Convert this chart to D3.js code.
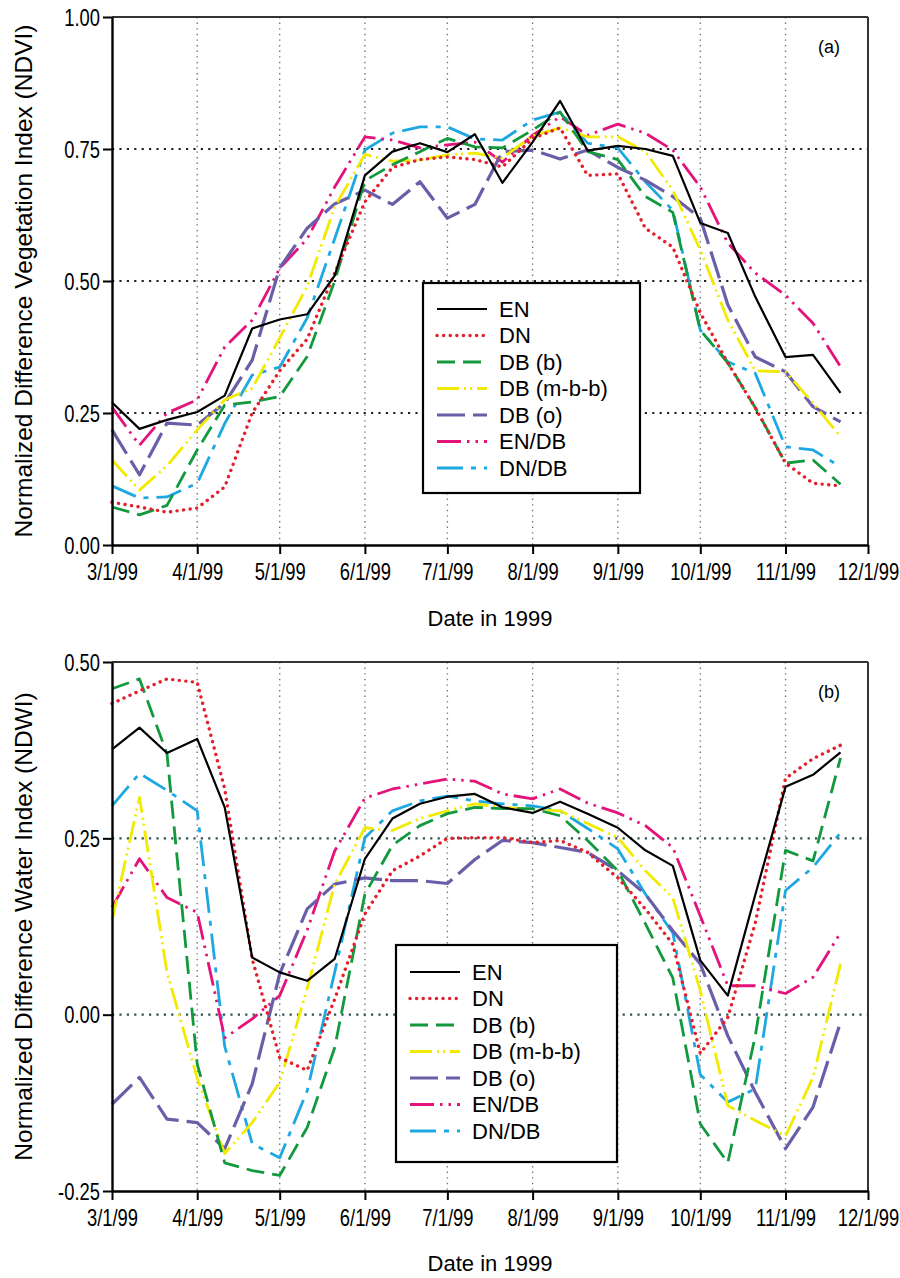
<!DOCTYPE html>
<html><head><meta charset="utf-8">
<script src="https://cdn.jsdelivr.net/npm/d3@7"></script>
<style>body{margin:0;background:#fff}</style>
</head><body>
<svg id="chart" width="900" height="1278"></svg>
<script>
// ---------- DATA ----------
const dateLabels = ["3/1/99","3/11/99","3/21/99","4/1/99","4/11/99","4/21/99","5/1/99","5/11/99","5/21/99",
  "6/1/99","6/11/99","6/21/99","7/1/99","7/11/99","7/21/99","8/1/99","8/11/99","8/21/99",
  "9/1/99","9/11/99","9/21/99","10/1/99","10/11/99","10/21/99","11/1/99","11/11/99","11/21/99"];
const xTickLabels = ["3/1/99","4/1/99","5/1/99","6/1/99","7/1/99","8/1/99","9/1/99","10/1/99","11/1/99","12/1/99"];
const seriesNames = ["EN","DN","DB (b)","DB (m-b-b)","DB (o)","EN/DB","DN/DB"];

const ndviEN   = [0.27,0.22,0.237,0.252,0.283,0.41,0.427,0.437,0.51,0.70,0.745,0.761,0.744,0.778,0.686,0.763,0.841,0.747,0.756,0.75,0.737,0.61,0.591,0.47,0.356,0.36,0.288];
const ndviDN   = [0.081,0.072,0.062,0.07,0.11,0.25,0.33,0.39,0.515,0.65,0.715,0.73,0.735,0.73,0.716,0.77,0.79,0.70,0.703,0.60,0.564,0.44,0.345,0.26,0.155,0.117,0.112];
const ndviDBb  = [0.072,0.057,0.075,0.18,0.265,0.271,0.281,0.357,0.50,0.69,0.72,0.745,0.77,0.754,0.752,0.786,0.82,0.745,0.73,0.66,0.63,0.407,0.345,0.26,0.155,0.161,0.115];
const ndviDBmbb= [0.161,0.104,0.15,0.218,0.275,0.297,0.392,0.49,0.64,0.74,0.727,0.729,0.739,0.742,0.733,0.775,0.79,0.773,0.773,0.745,0.672,0.559,0.426,0.33,0.328,0.269,0.205];
const ndviDBo  = [0.218,0.133,0.231,0.227,0.269,0.35,0.525,0.6,0.646,0.672,0.645,0.688,0.619,0.645,0.745,0.748,0.731,0.748,0.715,0.691,0.66,0.619,0.455,0.356,0.328,0.262,0.233];
const ndviENDB = [0.261,0.189,0.25,0.275,0.375,0.426,0.524,0.58,0.678,0.773,0.767,0.752,0.758,0.763,0.725,0.776,0.811,0.776,0.797,0.78,0.748,0.678,0.572,0.515,0.473,0.42,0.338];
const ndviDNDB = [0.112,0.089,0.091,0.117,0.23,0.322,0.337,0.43,0.58,0.748,0.78,0.792,0.792,0.769,0.767,0.805,0.82,0.761,0.752,0.688,0.634,0.407,0.347,0.325,0.186,0.18,0.148];

const ndwiEN   = [0.376,0.407,0.371,0.391,0.294,0.081,0.06,0.048,0.079,0.221,0.278,0.299,0.309,0.313,0.294,0.286,0.302,0.285,0.265,0.233,0.211,0.077,0.027,0.17,0.323,0.34,0.372];
const ndwiDN   = [0.441,0.459,0.476,0.471,0.32,0.079,-0.061,-0.079,0.022,0.143,0.204,0.225,0.25,0.251,0.251,0.244,0.247,0.23,0.194,0.15,0.1,-0.055,-0.004,0.13,0.335,0.363,0.382];
const ndwiDBb  = [0.462,0.476,0.37,-0.07,-0.21,-0.221,-0.228,-0.16,-0.047,0.171,0.24,0.268,0.285,0.294,0.292,0.292,0.282,0.247,0.204,0.129,0.052,-0.155,-0.21,-0.03,0.233,0.218,0.364];
const ndwiDBmbb= [0.133,0.308,0.06,-0.09,-0.197,-0.153,-0.096,0.037,0.185,0.265,0.261,0.278,0.289,0.299,0.294,0.291,0.289,0.271,0.251,0.204,0.166,0.034,-0.129,-0.15,-0.172,-0.089,0.072];
const ndwiDBo  = [-0.127,-0.089,-0.148,-0.153,-0.19,-0.098,0.058,0.15,0.185,0.194,0.19,0.19,0.186,0.22,0.247,0.244,0.237,0.23,0.204,0.171,0.119,0.072,-0.03,-0.11,-0.19,-0.131,-0.011];
const ndwiENDB = [0.152,0.221,0.166,0.145,-0.033,-0.006,0.027,0.12,0.232,0.307,0.32,0.327,0.334,0.331,0.313,0.306,0.32,0.30,0.286,0.268,0.237,0.14,0.041,0.041,0.03,0.053,0.116];
const ndwiDNDB = [0.296,0.342,0.318,0.289,-0.045,-0.183,-0.203,-0.108,0.06,0.251,0.289,0.303,0.31,0.303,0.299,0.296,0.289,0.264,0.235,0.171,0.116,-0.085,-0.124,-0.105,0.176,0.209,0.258];

const ndviTicks = [0, 0.25, 0.5, 0.75, 1.0];
const ndwiTicks = [-0.25, 0, 0.25, 0.5];

// ---------- STYLES ----------
const colors = ["#000000","#e3202c","#12993e","#f2ea00","#6a5ea8","#e3137b","#1ea8e2"];
const dashes = [null, "0.1 6.5", "18 8", "22 5 2 4 2 5", "28 8", "24 6 2.5 6 2.5 6", "26 8 5 8"];
const widths = [2.2, 3.4, 2.8, 2.8, 3.2, 2.8, 2.8];
const drawOrder = [6,5,4,3,2,1,0];

const parse = d3.timeParse("%m/%d/%y");
const dates = dateLabels.map(parse);
const svg = d3.select("#chart");

const x = d3.scaleTime().domain([parse("3/1/99"), parse("12/1/99")]).range([112, 868]);

const tickFont = "'Liberation Sans',Arial,Helvetica,sans-serif";
const titleFont = "'Liberation Sans',Arial,Helvetica,sans-serif";
const narrow = 0.8;

function panel(cfg) {
  const y = d3.scaleLinear().domain(cfg.domain).range([cfg.bottom, cfg.top]);
  const g = svg.append("g");
  const xt = xTickLabels.map(parse);

  // vertical grid (inner months)
  g.selectAll("line.vg").data(xt.slice(1, -1)).enter().append("line")
    .attr("x1", d => x(d)).attr("x2", d => x(d))
    .attr("y1", cfg.top).attr("y2", cfg.bottom)
    .attr("stroke", "#777").attr("stroke-width", 1.4).attr("stroke-dasharray", "1.4 4.2");
  // horizontal grid
  g.selectAll("line.hg").data(cfg.grid).enter().append("line")
    .attr("x1", 112).attr("x2", 868)
    .attr("y1", d => y(d)).attr("y2", d => y(d))
    .attr("stroke", cfg.gridColor).attr("stroke-width", 2.2)
    .attr("stroke-dasharray", "2.2 5.2");

  // series
  const line = d3.line().x((d, i) => x(dates[i])).y(d => y(d));
  drawOrder.forEach(k => {
    const p = g.append("path").datum(cfg.series[k])
      .attr("d", line).attr("fill", "none")
      .attr("stroke", colors[k]).attr("stroke-width", widths[k])
      .attr("stroke-linejoin", "round");
    if (dashes[k]) p.attr("stroke-dasharray", dashes[k]);
    if (k === 1) p.attr("stroke-linecap", "round");
  });

  // frame top/right
  g.append("line").attr("x1", 112).attr("x2", 868).attr("y1", cfg.top).attr("y2", cfg.top)
    .attr("stroke", "#333").attr("stroke-width", 2);
  g.append("line").attr("x1", 868).attr("x2", 868).attr("y1", cfg.top).attr("y2", cfg.bottom)
    .attr("stroke", "#333").attr("stroke-width", 2);

  // axes
  const ax = g.append("g").attr("transform", `translate(0,${cfg.bottom})`)
    .call(d3.axisBottom(x).tickValues(xt).tickFormat((d, i) => xTickLabels[i]).tickSize(9).tickSizeOuter(0));
  const ay = g.append("g").attr("transform", `translate(112,0)`)
    .call(d3.axisLeft(y).tickValues(cfg.ticks).tickFormat(d => d.toFixed(2)).tickSize(9).tickSizeOuter(0));
  [ax, ay].forEach(a => {
    a.select(".domain").attr("stroke", "#000").attr("stroke-width", 2.4);
    a.selectAll(".tick line").attr("stroke", "#000").attr("stroke-width", 2);
    a.selectAll(".tick text").attr("fill", "#000").attr("font-family", tickFont).attr("font-size", 23);
  });
  ax.selectAll(".tick text").attr("y", 0).attr("dy", 0)
    .attr("transform", `translate(0,35) scale(${narrow},1)`);
  ay.selectAll(".tick text").attr("x", 0).attr("dy", "0.36em")
    .attr("transform", `translate(-12,0) scale(${narrow},1)`);

  // titles
  svg.append("text").attr("x", 490).attr("y", cfg.titleY)
    .attr("text-anchor", "middle").attr("font-family", titleFont).attr("font-size", 22)
    .text("Date in 1999");
  svg.append("text").attr("transform", `translate(32,${(cfg.top + cfg.bottom) / 2}) rotate(-90)`)
    .attr("text-anchor", "middle").attr("font-family", titleFont).attr("font-size", 24.5)
    .text(cfg.ylabel);
  svg.append("text").attr("x", 840).attr("y", cfg.top + 36)
    .attr("text-anchor", "end").attr("font-family", titleFont).attr("font-size", 18)
    .text(cfg.tag);

  // legend
  const L = cfg.legend;
  const lg = g.append("g");
  lg.append("rect").attr("x", L.x).attr("y", L.y).attr("width", L.w).attr("height", L.h)
    .attr("fill", "#fff").attr("stroke", "#000").attr("stroke-width", 2.2);
  seriesNames.forEach((name, k) => {
    const yy = L.y + L.first + k * L.step;
    const ln = lg.append("line").attr("x1", L.x + 14).attr("x2", L.x + 64)
      .attr("y1", yy).attr("y2", yy)
      .attr("stroke", colors[k]).attr("stroke-width", widths[k]);
    if (dashes[k]) ln.attr("stroke-dasharray", dashes[k]);
    if (k === 1) ln.attr("stroke-linecap", "round");
    lg.append("text").attr("x", L.x + 76).attr("y", yy).attr("dy", "0.36em")
      .attr("font-family", titleFont).attr("font-size", 22).text(name);
  });
}

panel({
  top: 17, bottom: 545, domain: [0, 1], ticks: ndviTicks, grid: [0.25, 0.5, 0.75],
  gridColor: "#222", titleY: 626,
  series: [ndviEN, ndviDN, ndviDBb, ndviDBmbb, ndviDBo, ndviENDB, ndviDNDB],
  ylabel: "Normalized Difference Vegetation Index (NDVI)", tag: "(a)",
  legend: { x: 423, y: 283, w: 217, h: 210, first: 26, step: 26.5 }
});
panel({
  top: 662, bottom: 1191, domain: [-0.25, 0.5], ticks: ndwiTicks, grid: [0, 0.25],
  gridColor: "#2f5050", titleY: 1271,
  series: [ndwiEN, ndwiDN, ndwiDBb, ndwiDBmbb, ndwiDBo, ndwiENDB, ndwiDNDB],
  ylabel: "Normalized Difference Water Index (NDWI)", tag: "(b)",
  legend: { x: 396, y: 945, w: 221, h: 217, first: 27, step: 26.5 }
});
</script>
</body></html>
